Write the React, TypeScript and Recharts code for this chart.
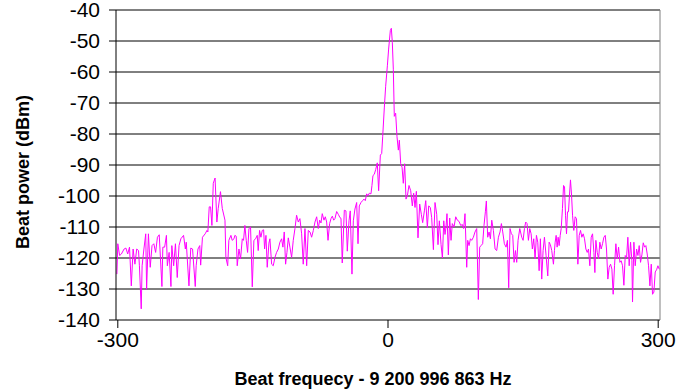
import React from 'react';
import { LineChart, Line, XAxis, YAxis, CartesianGrid, ReferenceLine, Label } from 'recharts';

const yTicks = [-140, -130, -120, -110, -100, -90, -80, -70, -60, -50, -40];
const xTicks = [-300, 0, 300];
const xTitle = 'Beat frequecy - 9 200 996 863 Hz';
const yTitle = 'Beat power (dBm)';

// Segment 1: -300 .. -181 Hz
const freqA = [-301,-300,-298,-296,-293,-291,-289,-287,-285,-283,-281,-279,-277,-276,-274,-273,-271,-269,-268,-266,-264,-262,-260,-258,-256,-254,-251,-250,-248,-246,-245,-243,-241,-240,-238,-236,-234,-232,-230,-227,-225,-224,-221,-219,-217,-214,-213,-211,-209,-208,-206,-203,-201,-200,-198.5,-197,-195.5,-194,-192,-190,-188.5,-186,-184,-181];
const powerA = [-125.2,-115.4,-119.2,-118.7,-117.1,-116.8,-118.7,-116.5,-129.0,-117.1,-122.0,-117.1,-117.6,-122.5,-136.4,-122.5,-117.1,-112.2,-130.1,-112.2,-123.0,-116.0,-115.4,-118.2,-113.3,-112.5,-129.2,-116.5,-116.5,-112.7,-122.5,-118.2,-129.2,-116.0,-122.5,-115.4,-126.3,-116.0,-113.8,-112.7,-117.1,-114.9,-129.0,-116.8,-117.1,-129.2,-122.5,-117.1,-116.0,-122.3,-113.3,-112.2,-111.1,-111.6,-103.5,-103.5,-109.5,-95.9,-94.2,-108.4,-104.0,-98.6,-104.0,-107.8];

// Segment 2: -180 .. -59 Hz
const freqB = [-180,-178,-176.7,-174.4,-173,-171,-170,-168.5,-167.4,-165.5,-163.7,-161.8,-160.4,-158.9,-157.4,-155.9,-154.4,-152.6,-150.7,-148.9,-147,-145.2,-144.1,-142.6,-141.1,-139.6,-138.1,-137,-135.5,-134.1,-132.2,-131.1,-129.2,-127.4,-125.5,-123.7,-121.8,-120,-118.1,-116.7,-115.2,-113.7,-112.2,-110.7,-108.9,-107,-105.2,-103.3,-101.5,-99.6,-97.8,-95.9,-94.1,-92.2,-90.3,-88.5,-86.6,-84.8,-82.9,-81.1,-79.2,-77.4,-75.9,-74.4,-73,-71.1,-69.6,-68.1,-66.6,-64.8,-63.3,-61.8,-60.3,-58.9];
const powerB = [-119.8,-122.5,-114.3,-112.7,-114.3,-113.8,-112.7,-113.0,-122.5,-117.1,-120.3,-113.8,-114.3,-109.5,-114.3,-118.2,-110.5,-110.0,-129.3,-114.3,-113.8,-112.7,-117.6,-111.1,-113.3,-111.1,-110.9,-117.1,-112.7,-123.0,-115.2,-113.8,-122.0,-122.5,-119.8,-118.2,-117.1,-114.9,-113.8,-116.5,-111.6,-122.0,-118.2,-113.5,-116.5,-119.8,-114.3,-110.5,-106.2,-108.4,-107.3,-112.2,-122.0,-110.5,-122.5,-111.1,-111.6,-113.3,-111.1,-108.4,-106.7,-110.5,-107.8,-108.7,-105.7,-107.8,-106.7,-108.4,-114.3,-108.9,-107.3,-106.5,-107.8,-107.3];

// Segment 3: -57 .. 63 Hz (carrier)
const freqC = [-57,-55.2,-53.3,-52.2,-50.8,-48.5,-46.7,-45.2,-43.3,-41.9,-40,-38.5,-36.7,-34.8,-33.3,-31.9,-30,-28.2,-26.7,-25.2,-23.7,-22.2,-20.8,-18.9,-17.8,-16.7,-15.2,-13.7,-11.9,-10.4,-8.5,-7,-5.9,-4.1,-2.6,-0.7,0.7,2.6,3.7,4.8,5.9,7,8.5,10,11.5,12.6,14.1,15.6,17,18.5,20,21.5,23.3,25.2,27,28.5,30,31.5,33.3,35.2,37,38.5,40.4,41.9,43.7,45.2,47,48.5,50.4,52.2,54.1,55.5,57,58.9,60.4,61.9,63.3];
const powerC = [-105.0,-105.9,-107.0,-107.2,-121.6,-104.6,-104.8,-117.8,-108.0,-104.8,-125.2,-108.0,-104.2,-102.1,-115.4,-103.2,-102.1,-101.5,-101.0,-101.5,-99.3,-99.9,-99.1,-99.3,-96.6,-93.4,-93.0,-91.5,-89.3,-98.3,-86.8,-86.3,-80.9,-71.6,-64.6,-58.0,-52.6,-46.6,-45.9,-50.4,-59.1,-74.3,-73.3,-80.9,-85.2,-82.0,-89.6,-90.7,-95.9,-89.6,-101.0,-99.9,-96.6,-98.3,-103.2,-99.1,-103.7,-98.5,-113.5,-102.6,-105.9,-108.6,-104.8,-101.5,-110.2,-103.2,-103.7,-107.0,-117.3,-102.1,-105.9,-115.7,-108.0,-115.7,-120.0,-108.0,-112.4];

// Segment 4: 64 .. 185 Hz
const freqD = [64.4,65.5,67,68.5,70,71.4,73.3,75.2,77,78.9,80.7,82.6,84,85.5,87.4,88.5,90,91.5,92.9,94.8,96.6,98.5,100.3,101.8,103.3,105.1,106.6,108.1,109.2,110.7,112.2,113.7,115.2,117,118.9,120.7,122.6,124.4,125.9,127.4,129.2,131.1,132.6,134,135.5,137,138.5,140,141.5,142.9,144.4,146.3,148.5,150,151.5,152.9,154.4,155.9,157.4,158.9,160.3,161.8,163.3,164.8,166.3,167.8,169.2,170.7,172.2,173.7,175.5,177.4,178.9,180.3,181.8,183.7,184.8];
const powerD = [-110.0,-105.7,-119.0,-107.1,-114.3,-108.9,-110.0,-106.7,-107.8,-108.2,-109.5,-109.2,-110.5,-105.7,-123.0,-114.3,-116.0,-113.8,-114.3,-113.3,-111.6,-110.5,-133.4,-116.5,-116.0,-115.4,-109.5,-105.1,-101.6,-113.3,-111.6,-113.8,-107.8,-111.1,-117.1,-117.6,-113.3,-111.6,-108.9,-111.6,-115.4,-116.5,-114.3,-129.6,-110.5,-112.2,-112.7,-121.4,-117.6,-121.4,-114.3,-110.5,-113.3,-114.3,-110.5,-108.4,-108.9,-114.3,-110.5,-112.2,-117.1,-113.8,-120.3,-112.7,-114.9,-124.1,-113.8,-126.8,-117.6,-113.3,-119.2,-125.8,-114.9,-115.7,-117.6,-122.0,-117.6];

// Segment 5: 185 .. 301 Hz
const freqE = [185.6,186.7,187.8,188.9,190,191.2,192.3,193.7,194.9,196,197.1,198.2,199.3,200.4,201.5,202.6,203.8,204.9,206.3,207.8,209.3,210.8,212.3,213.8,215.2,216.7,218.2,219.7,221.2,222.6,224.1,225.6,227.1,228.6,229.7,230.8,232.3,233.8,235.2,236.7,238.2,239.7,241.2,242.6,244.1,245.6,247.1,248.6,250,251.5,253,254.5,256,257.5,258.9,260.4,261.9,263.4,264.9,266.3,267.8,269.3,270.8,271.5,273,274.5,276,277.5,278.9,280.4,281.9,283.4,284.9,286.3,287.8,289.3,290.8,292.3,293.7,295.2,296.7,298.2,299.7,301.2];
const powerE = [-114.9,-112.7,-116.5,-113.3,-116.0,-112.7,-110.5,-104.0,-96.6,-97.0,-106.2,-112.2,-105.1,-105.1,-99.7,-94.8,-99.7,-106.2,-111.1,-106.7,-107.3,-122.0,-112.7,-111.1,-113.3,-112.2,-113.8,-117.1,-118.2,-117.1,-122.5,-113.3,-112.2,-118.2,-124.7,-114.3,-118.2,-120.3,-114.9,-117.1,-115.4,-113.3,-112.7,-117.1,-126.8,-123.0,-122.0,-123.6,-131.7,-122.5,-115.4,-120.3,-116.5,-121.4,-120.9,-122.5,-128.8,-119.2,-119.8,-113.3,-122.5,-114.9,-120.9,-134.2,-114.9,-122.5,-117.1,-119.2,-116.0,-121.4,-119.0,-115.1,-116.5,-116.0,-118.7,-122.5,-129.0,-122.0,-131.7,-131.0,-124.5,-123.8,-122.5,-123.6];

const zip = (f: number[], p: number[]) => {
  const n = Math.min(f.length, p.length);
  const out: { f: number; p: number }[] = [];
  for (let i = 0; i < n; i++) out.push({ f: f[i], p: p[i] });
  return out;
};

const data = [
  ...zip(freqA, powerA),
  ...zip(freqB, powerB),
  ...zip(freqC, powerC),
  ...zip(freqD, powerD),
  ...zip(freqE, powerE),
];

const FONT = '"Liberation Sans", Arial, Helvetica, sans-serif';

export default function App() {
  return (
    <div style={{ position: 'absolute', left: 0, top: 0, width: 686, height: 389, background: '#fff' }}>
      <LineChart width={686} height={389} data={data} margin={{ top: 10, right: 26, left: 0, bottom: 0 }}>
        <CartesianGrid vertical={false} stroke="#000" strokeWidth={1} />
        <XAxis
          dataKey="f"
          type="number"
          domain={[-302, 302]}
          ticks={xTicks}
          interval={0}
          height={69}
          axisLine={{ stroke: '#808080' }}
          tickLine={{ stroke: '#000' }}
          tickSize={8}
          tickMargin={4}
          tick={{ fill: '#000', fontSize: 21, fontFamily: FONT }}
        >
          <Label
            content={(props: any) => {
              const vb = props.viewBox || { x: 116, width: 544 };
              return (
                <text x={vb.x + vb.width / 2 - 15} y={385} textAnchor="middle" fontFamily={FONT} fontWeight="bold" fontSize={18} fill="#000">
                  {xTitle}
                </text>
              );
            }}
          />
        </XAxis>
        <YAxis
          type="number"
          domain={[-140, -40]}
          ticks={yTicks}
          interval={0}
          width={116}
          axisLine={{ stroke: '#000' }}
          tickLine={{ stroke: '#000' }}
          tickSize={7}
          tickMargin={9}
          tick={{ fill: '#000', fontSize: 21, fontFamily: FONT }}
        >
          <Label
            content={() => (
              <text x={0} y={0} transform="translate(29,172) rotate(-90)" textAnchor="middle" fontFamily={FONT} fontWeight="bold" fontSize={18} fill="#000">
                {yTitle}
              </text>
            )}
          />
        </YAxis>
        <ReferenceLine x={302} stroke="#808080" />
        <Line type="linear" dataKey="p" stroke="#ff00ff" strokeWidth={1} dot={false} isAnimationActive={false} />
      </LineChart>
    </div>
  );
}
